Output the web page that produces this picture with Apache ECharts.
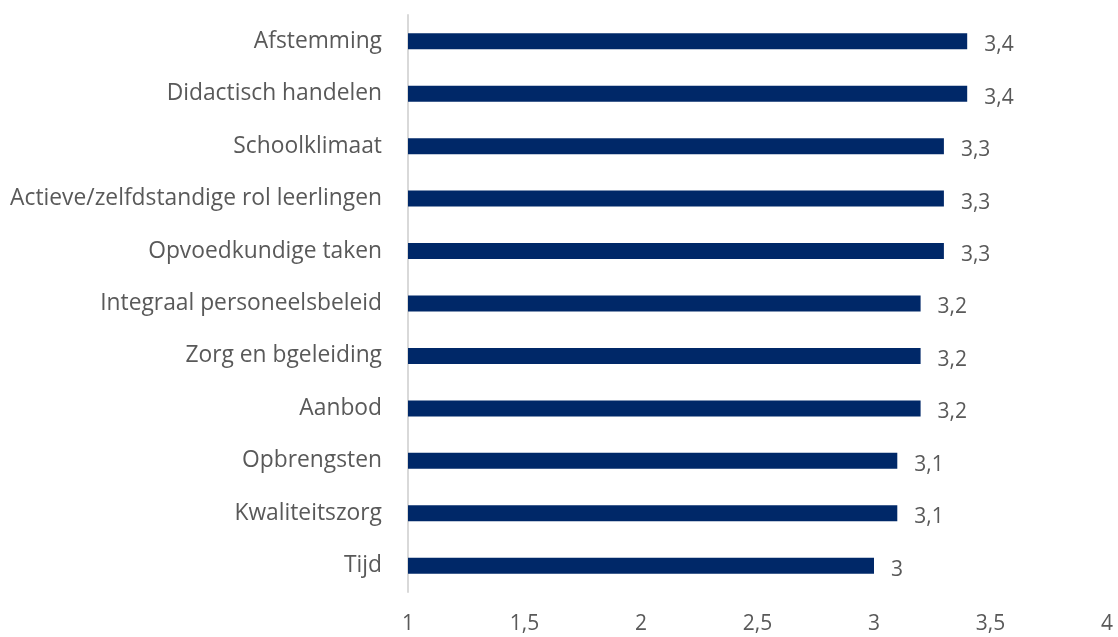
<!DOCTYPE html>
<html>
<head>
<meta charset="utf-8">
<script src="https://cdn.jsdelivr.net/npm/echarts@6/dist/echarts.min.js"></script>
<style>
  html, body { margin: 0; padding: 0; background: #fff; }
  #chart { width: 1118px; height: 637px; }
</style>
</head>
<body>
<div id="chart"></div>
<script>
// Categories listed top to bottom
const categories = [
  'Afstemming',
  'Didactisch handelen',
  'Schoolklimaat',
  'Actieve/zelfdstandige rol leerlingen',
  'Opvoedkundige taken',
  'Integraal personeelsbeleid',
  'Zorg en bgeleiding',
  'Aanbod',
  'Opbrengsten',
  'Kwaliteitszorg',
  'Tijd'
];
const scores = [3.4, 3.4, 3.3, 3.3, 3.3, 3.2, 3.2, 3.2, 3.1, 3.1, 3.0];
const xTicks = [1, 1.5, 2, 2.5, 3, 3.5, 4];

const fmt = v => String(v).replace('.', ',');
const FONT = '"Open Sans", "Noto Sans", sans-serif';

const chart = echarts.init(document.getElementById('chart'), null, { renderer: 'canvas' });
chart.setOption({
  animation: false,
  grid: { left: 408, right: 11, top: 15, bottom: 45, containLabel: false },
  xAxis: {
    type: 'value',
    min: xTicks[0],
    max: xTicks[xTicks.length - 1],
    interval: 0.5,
    axisLine: { show: false },
    axisTick: { show: false },
    splitLine: { show: false },
    axisLabel: {
      color: '#595959', fontSize: 21, fontFamily: FONT, margin: 22,
      formatter: v => fmt(v)
    }
  },
  yAxis: {
    type: 'category',
    inverse: true,
    data: categories,
    axisLine: { show: true, lineStyle: { color: '#d9d9d9', width: 2 } },
    axisTick: { show: false },
    axisLabel: {
      color: '#595959', fontSize: 22.8, fontFamily: FONT, margin: 26,
      padding: [6, 0, 0, 0]
    }
  },
  series: [{
    type: 'bar',
    data: scores,
    barWidth: 16,
    itemStyle: { color: '#002868' },
    label: {
      show: true,
      position: 'right',
      distance: 17,
      offset: [0, 4],
      color: '#595959',
      fontSize: 21,
      fontFamily: FONT,
      formatter: p => fmt(p.value)
    }
  }]
});
</script>
</body>
</html>
